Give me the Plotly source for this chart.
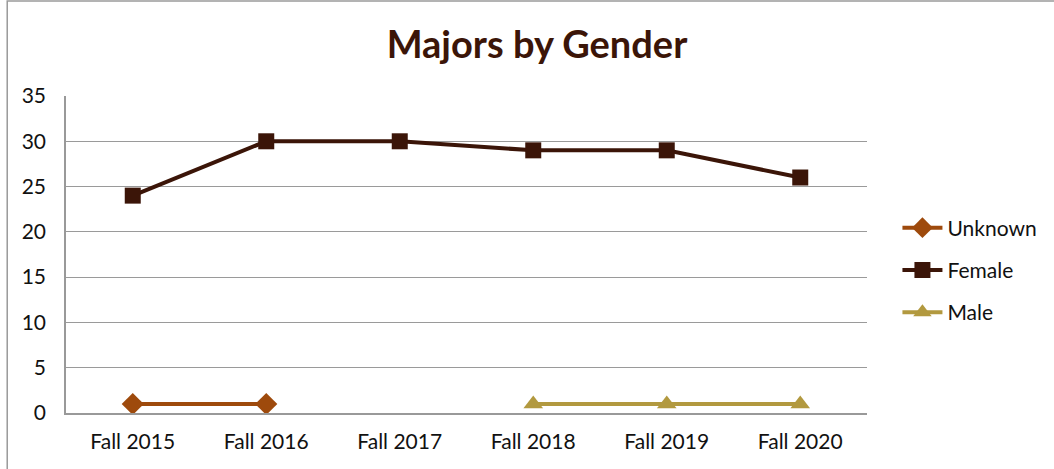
import plotly.graph_objects as go

categories = ["Fall 2015", "Fall 2016", "Fall 2017", "Fall 2018", "Fall 2019", "Fall 2020"]
unknown = [1, 1, None, None, None, None]
female = [24, 30, 30, 29, 29, 26]
male = [None, None, None, 1, 1, 1]

FONT = "Lato, 'Noto Sans', sans-serif"
C_UNK = "#9E4A0C"
C_FEM = "#3B1508"
C_MAL = "#B2993F"

fig = go.Figure()
fig.add_trace(go.Scatter(x=categories, y=unknown, name="Unknown", mode="lines+markers",
                         legendgroup="a",
                         line=dict(color=C_UNK, width=4),
                         marker=dict(symbol="diamond", size=17, color=C_UNK)))
fig.add_trace(go.Scatter(x=categories, y=female, name="Female", mode="lines+markers",
                         legendgroup="b",
                         line=dict(color=C_FEM, width=4),
                         marker=dict(symbol="square", size=16, color=C_FEM)))
fig.add_trace(go.Scatter(x=categories, y=male, name="Male", mode="lines+markers",
                         legendgroup="c",
                         line=dict(color=C_MAL, width=4),
                         marker=dict(symbol="triangle-up", size=17, color=C_MAL)))

fig.update_layout(
    width=1054, height=469,
    margin=dict(l=66, r=184, t=96, b=56),
    paper_bgcolor="white", plot_bgcolor="white",
    font=dict(family=FONT, size=21, color="#111111"),
    title=dict(text="<b>Majors by Gender</b>", x=537 / 1054, xref="container", xanchor="center",
               y=1 - 45 / 469, yref="container", yanchor="middle",
               font=dict(family=FONT, size=38, color=C_FEM)),
    showlegend=True,
    legend=dict(x=1.038, xanchor="left", y=0.451, yanchor="middle",
                font=dict(family=FONT, size=21, color="#111111"),
                tracegroupgap=12, itemwidth=40, bgcolor="rgba(0,0,0,0)"),
    xaxis=dict(type="category", range=[-0.5, 5.5], showgrid=False,
               showline=True, linecolor="#999999", linewidth=1.5,
               ticks="", tickfont=dict(size=21, color="#111111"),
               ticklabelstandoff=9, fixedrange=True),
    yaxis=dict(range=[0, 35], dtick=5, showgrid=True, gridcolor="#9a9a9a", gridwidth=1,
               showline=True, linecolor="#999999", linewidth=1.5, zeroline=False,
               ticks="", tickfont=dict(size=21, color="#111111"),
               ticklabelstandoff=14, fixedrange=True),
)

# chart border
fig.add_shape(type="rect", xref="paper", yref="paper",
              x0=(7 - 66) / 804, x1=(1100 - 66) / 804,
              y0=(413 - 480) / 317, y1=(413 - 1) / 317,
              line=dict(color="#9a9a9a", width=1.5), fillcolor="rgba(0,0,0,0)", layer="below")

fig.write_html("out.html",
               config={"displayModeBar": False},
               post_script="document.body.style.margin='0';document.body.style.overflow='hidden';")
